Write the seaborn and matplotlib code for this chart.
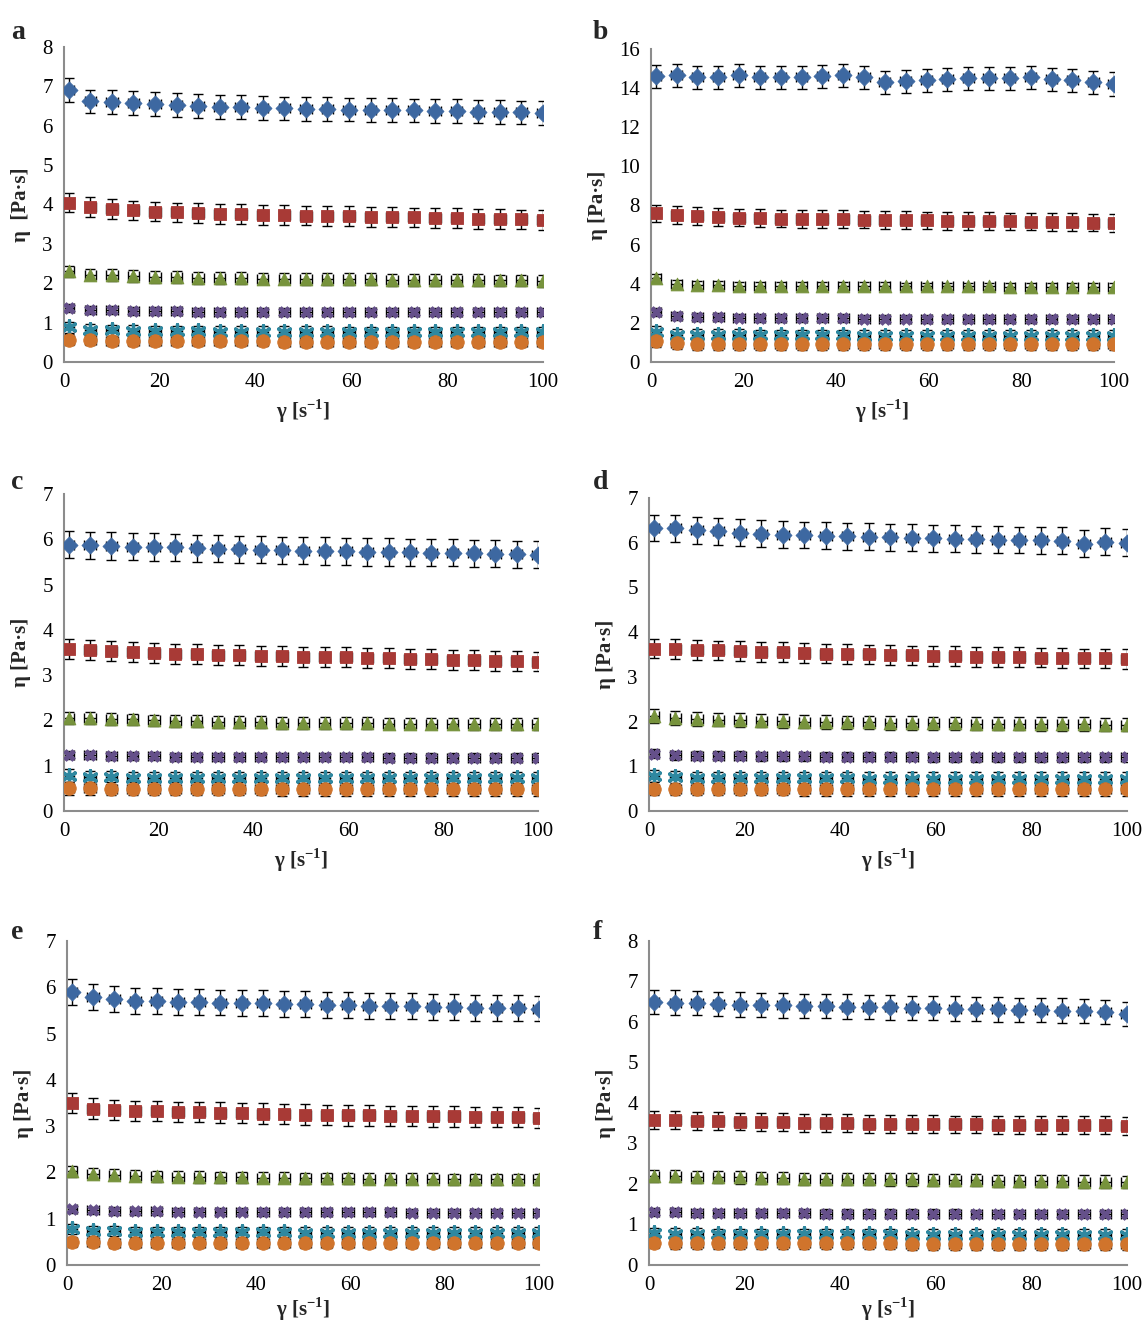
import numpy as np
import pandas as pd
import matplotlib
matplotlib.use("Agg")
import matplotlib.pyplot as plt
import seaborn as sns

# Shear rate (1/s)
shear_rate = [1.0, 5.5, 10.0, 14.5, 19.0, 23.5, 28.0, 32.5, 37.0, 41.5, 46.0, 50.5,
              55.0, 59.5, 64.0, 68.5, 73.0, 77.5, 82.0, 86.5, 91.0, 95.5, 100.0]
shear_rate_err = 1.2

series_names = ["S1", "S2", "S3", "S4", "S5", "S6"]

# Panel a: viscosity (Pa·s)
a_s1 = [6.90, 6.62, 6.60, 6.57, 6.55, 6.53, 6.50, 6.48, 6.47, 6.45, 6.44, 6.43, 6.42, 6.41, 6.40, 6.40, 6.39, 6.38, 6.37, 6.36, 6.35, 6.34, 6.32]
a_s2 = [4.05, 3.93, 3.88, 3.85, 3.82, 3.80, 3.78, 3.76, 3.75, 3.74, 3.73, 3.72, 3.71, 3.70, 3.69, 3.68, 3.67, 3.66, 3.65, 3.64, 3.63, 3.62, 3.60]
a_s3 = [2.30, 2.22, 2.20, 2.18, 2.16, 2.15, 2.14, 2.13, 2.13, 2.12, 2.12, 2.11, 2.11, 2.10, 2.10, 2.09, 2.09, 2.08, 2.08, 2.08, 2.07, 2.07, 2.06]
a_s4 = [1.38, 1.33, 1.31, 1.30, 1.29, 1.29, 1.28, 1.28, 1.28, 1.28, 1.27, 1.27, 1.27, 1.27, 1.27, 1.27, 1.26, 1.26, 1.26, 1.26, 1.26, 1.26, 1.26]
a_s5 = [0.88, 0.82, 0.80, 0.79, 0.78, 0.78, 0.78, 0.77, 0.77, 0.77, 0.77, 0.77, 0.77, 0.76, 0.76, 0.76, 0.76, 0.76, 0.76, 0.76, 0.76, 0.76, 0.76]
a_s6 = [0.57, 0.55, 0.54, 0.53, 0.53, 0.53, 0.53, 0.53, 0.53, 0.53, 0.52, 0.52, 0.52, 0.52, 0.52, 0.52, 0.52, 0.52, 0.52, 0.52, 0.52, 0.52, 0.52]
a_err = [0.30, 0.25, 0.15, 0.10, 0.14, 0.13]

# Panel b
b_s1 = [14.60, 14.65, 14.55, 14.55, 14.65, 14.55, 14.55, 14.55, 14.60, 14.65, 14.55, 14.30, 14.35, 14.40, 14.45, 14.50, 14.50, 14.50, 14.55, 14.45, 14.40, 14.30, 14.20]
b_s2 = [7.60, 7.50, 7.45, 7.40, 7.38, 7.35, 7.33, 7.32, 7.30, 7.30, 7.28, 7.27, 7.25, 7.24, 7.22, 7.21, 7.20, 7.19, 7.18, 7.16, 7.15, 7.13, 7.10]
b_s3 = [4.30, 4.00, 3.95, 3.92, 3.90, 3.90, 3.90, 3.88, 3.88, 3.87, 3.87, 3.87, 3.86, 3.86, 3.86, 3.86, 3.86, 3.85, 3.85, 3.85, 3.85, 3.85, 3.85]
b_s4 = [2.55, 2.35, 2.30, 2.28, 2.27, 2.25, 2.24, 2.24, 2.23, 2.23, 2.22, 2.22, 2.22, 2.21, 2.21, 2.21, 2.21, 2.20, 2.20, 2.20, 2.20, 2.20, 2.20]
b_s5 = [1.55, 1.40, 1.38, 1.37, 1.37, 1.36, 1.36, 1.36, 1.36, 1.36, 1.35, 1.35, 1.35, 1.35, 1.35, 1.35, 1.35, 1.35, 1.35, 1.35, 1.35, 1.35, 1.35]
b_s6 = [1.05, 0.95, 0.93, 0.92, 0.92, 0.91, 0.91, 0.91, 0.91, 0.90, 0.90, 0.90, 0.90, 0.90, 0.90, 0.90, 0.90, 0.90, 0.90, 0.90, 0.90, 0.90, 0.90]
b_err = [0.60, 0.45, 0.20, 0.20, 0.30, 0.30]

# Panel c
c_s1 = [5.88, 5.87, 5.85, 5.84, 5.83, 5.82, 5.80, 5.79, 5.78, 5.77, 5.76, 5.75, 5.74, 5.73, 5.72, 5.72, 5.71, 5.70, 5.70, 5.69, 5.68, 5.67, 5.66]
c_s2 = [3.57, 3.55, 3.53, 3.51, 3.49, 3.47, 3.46, 3.45, 3.44, 3.43, 3.42, 3.41, 3.40, 3.39, 3.38, 3.37, 3.36, 3.35, 3.34, 3.33, 3.32, 3.31, 3.30]
c_s3 = [2.05, 2.05, 2.03, 2.02, 2.00, 1.99, 1.98, 1.97, 1.97, 1.96, 1.95, 1.95, 1.94, 1.94, 1.94, 1.93, 1.93, 1.93, 1.93, 1.92, 1.92, 1.92, 1.92]
c_s4 = [1.24, 1.23, 1.22, 1.21, 1.21, 1.20, 1.20, 1.20, 1.20, 1.19, 1.19, 1.19, 1.19, 1.19, 1.19, 1.18, 1.18, 1.18, 1.18, 1.18, 1.18, 1.18, 1.18]
c_s5 = [0.78, 0.75, 0.74, 0.73, 0.73, 0.73, 0.73, 0.73, 0.72, 0.72, 0.72, 0.72, 0.72, 0.72, 0.72, 0.72, 0.72, 0.72, 0.72, 0.72, 0.72, 0.72, 0.72]
c_s6 = [0.50, 0.50, 0.49, 0.49, 0.49, 0.49, 0.49, 0.49, 0.49, 0.49, 0.48, 0.48, 0.48, 0.48, 0.48, 0.48, 0.48, 0.48, 0.48, 0.48, 0.48, 0.48, 0.48]
c_err = [0.30, 0.22, 0.13, 0.09, 0.14, 0.14]

# Panel d
d_s1 = [6.33, 6.32, 6.28, 6.25, 6.22, 6.20, 6.18, 6.17, 6.16, 6.14, 6.13, 6.12, 6.11, 6.10, 6.09, 6.08, 6.07, 6.06, 6.05, 6.04, 5.98, 6.02, 6.00]
d_s2 = [3.63, 3.62, 3.60, 3.59, 3.57, 3.56, 3.55, 3.54, 3.52, 3.51, 3.50, 3.49, 3.48, 3.47, 3.46, 3.45, 3.45, 3.44, 3.43, 3.42, 3.41, 3.41, 3.40]
d_s3 = [2.12, 2.08, 2.06, 2.04, 2.03, 2.02, 2.01, 2.00, 1.99, 1.98, 1.98, 1.97, 1.97, 1.96, 1.96, 1.95, 1.95, 1.95, 1.94, 1.94, 1.94, 1.93, 1.93]
d_s4 = [1.28, 1.25, 1.24, 1.23, 1.23, 1.22, 1.22, 1.22, 1.21, 1.21, 1.21, 1.21, 1.21, 1.20, 1.20, 1.20, 1.20, 1.20, 1.20, 1.20, 1.20, 1.20, 1.20]
d_s5 = [0.78, 0.75, 0.74, 0.74, 0.73, 0.73, 0.73, 0.73, 0.73, 0.73, 0.72, 0.72, 0.72, 0.72, 0.72, 0.72, 0.72, 0.72, 0.72, 0.72, 0.72, 0.72, 0.72]
d_s6 = [0.50, 0.49, 0.49, 0.49, 0.49, 0.49, 0.49, 0.48, 0.48, 0.48, 0.48, 0.48, 0.48, 0.48, 0.48, 0.48, 0.48, 0.48, 0.48, 0.48, 0.48, 0.48, 0.48]
d_err = [0.30, 0.22, 0.15, 0.10, 0.14, 0.14]

# Panel e
e_s1 = [5.90, 5.78, 5.74, 5.71, 5.70, 5.69, 5.68, 5.67, 5.66, 5.65, 5.64, 5.63, 5.62, 5.61, 5.60, 5.60, 5.59, 5.58, 5.57, 5.56, 5.55, 5.55, 5.54]
e_s2 = [3.50, 3.38, 3.35, 3.33, 3.32, 3.31, 3.30, 3.29, 3.28, 3.27, 3.26, 3.25, 3.24, 3.23, 3.23, 3.22, 3.22, 3.21, 3.21, 3.20, 3.20, 3.19, 3.18]
e_s3 = [2.02, 1.97, 1.95, 1.93, 1.92, 1.91, 1.90, 1.89, 1.89, 1.88, 1.88, 1.87, 1.87, 1.87, 1.86, 1.86, 1.86, 1.86, 1.85, 1.85, 1.85, 1.85, 1.85]
e_s4 = [1.20, 1.18, 1.17, 1.16, 1.16, 1.15, 1.15, 1.15, 1.15, 1.14, 1.14, 1.14, 1.14, 1.14, 1.14, 1.14, 1.13, 1.13, 1.13, 1.13, 1.13, 1.13, 1.13]
e_s5 = [0.78, 0.74, 0.73, 0.72, 0.72, 0.71, 0.71, 0.71, 0.71, 0.71, 0.71, 0.70, 0.70, 0.70, 0.70, 0.70, 0.70, 0.70, 0.70, 0.70, 0.70, 0.70, 0.70]
e_s6 = [0.50, 0.49, 0.48, 0.48, 0.48, 0.48, 0.48, 0.48, 0.48, 0.47, 0.47, 0.47, 0.47, 0.47, 0.47, 0.47, 0.47, 0.47, 0.47, 0.47, 0.47, 0.47, 0.47]
e_err = [0.28, 0.22, 0.12, 0.08, 0.11, 0.11]

# Panel f
f_s1 = [6.50, 6.48, 6.47, 6.45, 6.43, 6.42, 6.41, 6.40, 6.39, 6.38, 6.37, 6.36, 6.35, 6.34, 6.33, 6.32, 6.31, 6.30, 6.29, 6.28, 6.27, 6.25, 6.20]
f_s2 = [3.58, 3.57, 3.56, 3.55, 3.54, 3.53, 3.52, 3.51, 3.50, 3.50, 3.49, 3.49, 3.48, 3.48, 3.47, 3.47, 3.46, 3.46, 3.46, 3.45, 3.45, 3.45, 3.44]
f_s3 = [2.20, 2.20, 2.18, 2.17, 2.16, 2.15, 2.14, 2.13, 2.13, 2.12, 2.12, 2.11, 2.11, 2.10, 2.10, 2.09, 2.08, 2.08, 2.07, 2.07, 2.06, 2.06, 2.05]
f_s4 = [1.30, 1.30, 1.29, 1.29, 1.28, 1.28, 1.28, 1.28, 1.27, 1.27, 1.27, 1.27, 1.27, 1.27, 1.27, 1.26, 1.26, 1.26, 1.26, 1.26, 1.26, 1.26, 1.26]
f_s5 = [0.78, 0.77, 0.77, 0.76, 0.76, 0.76, 0.76, 0.76, 0.76, 0.76, 0.76, 0.76, 0.75, 0.75, 0.75, 0.75, 0.75, 0.75, 0.75, 0.75, 0.75, 0.75, 0.75]
f_s6 = [0.55, 0.54, 0.54, 0.53, 0.53, 0.53, 0.53, 0.53, 0.53, 0.53, 0.53, 0.53, 0.52, 0.52, 0.52, 0.52, 0.52, 0.52, 0.52, 0.52, 0.52, 0.52, 0.52]
f_err = [0.30, 0.22, 0.15, 0.10, 0.14, 0.14]

panel_letters = ["a", "b", "c", "d", "e", "f"]
panel_data = [
    [a_s1, a_s2, a_s3, a_s4, a_s5, a_s6],
    [b_s1, b_s2, b_s3, b_s4, b_s5, b_s6],
    [c_s1, c_s2, c_s3, c_s4, c_s5, c_s6],
    [d_s1, d_s2, d_s3, d_s4, d_s5, d_s6],
    [e_s1, e_s2, e_s3, e_s4, e_s5, e_s6],
    [f_s1, f_s2, f_s3, f_s4, f_s5, f_s6],
]
panel_err = [a_err, b_err, c_err, d_err, e_err, f_err]
y_max = [8, 16, 7, 7, 7, 8]
y_step = [1, 2, 1, 1, 1, 1]
y_labels = ["η  [Pa·s]", "η [Pa·s]", "η [Pa·s]", "η [Pa·s]", "η [Pa·s]", "η [Pa·s]"]
x_ticks = [0, 20, 40, 60, 80, 100]

colors = ["#3D68A1", "#A83A36", "#77933C", "#65508A", "#2F88A0", "#D0742C"]
markers = ["D", "s", "^", "X", (6, 2, 0), "o"]
marker_sizes = [75, 75, 85, 70, 95, 95]

sns.set_theme(style="white")
plt.rcParams["font.family"] = ["Liberation Serif", "DejaVu Serif"]
plt.rcParams["mathtext.fontset"] = "custom"
plt.rcParams["mathtext.rm"] = "Liberation Serif"
plt.rcParams["mathtext.bf"] = "Liberation Serif:bold"

fig = plt.figure(figsize=(11.46, 13.24), dpi=100)

# axes rectangles in figure fraction [left, bottom, width, height]
rects = [
    [0.0558, 0.7266, 0.4180, 0.2379],
    [0.5681, 0.7266, 0.4040, 0.2364],
    [0.0558, 0.3875, 0.4136, 0.2394],
    [0.5663, 0.3875, 0.4171, 0.2364],
    [0.0585, 0.0446, 0.4119, 0.2447],
    [0.5663, 0.0446, 0.4171, 0.2447],
]
x_label_pad = [4, 4, 4, 4, 0, 0]
letter_pos = [(0.010, 0.985), (0.517, 0.985), (0.010, 0.645), (0.517, 0.645), (0.010, 0.305), (0.517, 0.305)]

grey = "#8C8C8C"
for i in range(6):
    ax = fig.add_axes(rects[i])
    frames = []
    for k, name in enumerate(series_names):
        frames.append(pd.DataFrame({"rate": shear_rate, "eta": panel_data[i][k], "series": name}))
    df = pd.concat(frames, ignore_index=True)

    for k, name in enumerate(series_names):
        sub = df[df["series"] == name]
        ax.errorbar(sub["rate"], sub["eta"], yerr=panel_err[i][k], xerr=shear_rate_err,
                    fmt="none", ecolor="black", elinewidth=1.0, capsize=3.5, capthick=1.0, zorder=2)
        sns.scatterplot(data=sub, x="rate", y="eta", ax=ax, color=colors[k], marker=markers[k],
                        s=marker_sizes[k], edgecolor=colors[k] if k != 4 else None,
                        linewidth=0.6 if k != 4 else 2.4, zorder=3, legend=False)

    ax.set_xlim(0, 100)
    ax.set_ylim(0, y_max[i])
    ax.set_xticks(x_ticks)
    ax.set_yticks(np.arange(0, y_max[i] + 0.1, y_step[i]))
    ax.tick_params(axis="both", which="major", labelsize=15, colors="black",
                   direction="out", length=5, width=1.2, color=grey, pad=3)
    for side in ["top", "right"]:
        ax.spines[side].set_visible(False)
    for side in ["left", "bottom"]:
        ax.spines[side].set_color(grey)
        ax.spines[side].set_linewidth(1.5)
    ax.set_xlabel(r"γ [s$^{\mathbf{-1}}$]", fontsize=15, fontweight="bold", labelpad=x_label_pad[i])
    ax.set_ylabel(y_labels[i], fontsize=15, fontweight="bold", labelpad=8)
    ax.patch.set_alpha(0)
    fig.text(letter_pos[i][0], letter_pos[i][1], panel_letters[i], fontsize=20,
             fontweight="bold", va="top", ha="left")

fig.savefig("out.png", dpi=100, facecolor="white")
